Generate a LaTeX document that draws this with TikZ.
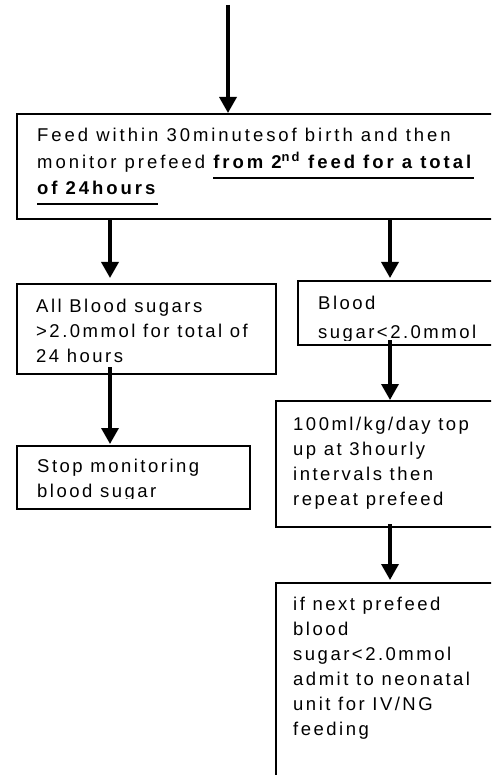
\documentclass[tikz,border=0pt]{standalone}
\usepackage{fontspec}
\setmainfont{Liberation Sans}[LetterSpace=13.5]
\usetikzlibrary{arrows.meta, positioning}

\newcommand\undl[1]{\setbox0\hbox{#1}\rlap{\smash{\rule[-10.5pt]{\wd0}{2pt}}}\box0}

\begin{document}
\begin{tikzpicture}[x=1pt, y=-1pt,
    box/.style={draw, line width=2pt, anchor=north west, inner sep=0pt},
    txt/.style={inner sep=0pt, align=left, font=\fontsize{18.5}{25}\selectfont},
    arr/.style={-{Triangle[width=17pt, length=16pt]}, line width=3.4pt}]
    \useasboundingbox (0,0) rectangle (491,775);
    \clip (0,0) rectangle (491,775);

    % boxes
    \node[box, minimum width=514pt, minimum height=105pt] (feed)  at (16,113) {};
    \node[box, minimum width=259pt, minimum height=90pt]  (allok) at (16,283) {};
    \node[box, minimum width=233pt, minimum height=64pt]  (high)  at (297,280) {};
    \node[box, minimum width=233pt, minimum height=63pt]  (stop)  at (16,445) {};
    \node[box, minimum width=255pt, minimum height=126pt] (topup) at (275,400) {};
    \node[box, minimum width=255pt, minimum height=240pt] (admit) at (275,582) {};

    % texts
    \node[txt, font=\fontsize{18.5}{26.5}\selectfont\addfontfeatures{LetterSpace=16},
          below right=15pt and 21pt of feed.north west] (feedtxt)
      {Feed within 30minutesof birth and then\\
       monitor prefeed \undl{\textbf{from 2\textsuperscript{nd} feed for a total}}\\
       \undl{\textbf{of 24hours}}};
    \node[txt, below right=16pt and 20pt of allok.north west] (alloktxt)
      {All Blood sugars\\>2.0mmol for total of\\24 hours};
    \begin{scope}
      \clip (high.north west) rectangle ([yshift=6pt]high.south east);
      \node[txt, font=\fontsize{18.5}{29}\selectfont,
            below right=15.5pt and 21pt of high.north west] (hightxt) {Blood\\sugar<2.0mmol};
    \end{scope}
    \begin{scope}
      \clip (stop.north west) rectangle ([yshift=12pt]stop.south east);
      \node[txt, below right=14pt and 21pt of stop.north west] (stoptxt) {Stop monitoring\\blood sugar};
    \end{scope}
    \node[txt, below right=16.5pt and 18pt of topup.north west] (topuptxt)
      {100ml/kg/day top\\up at 3hourly\\intervals then\\repeat prefeed};
    \node[txt, below right=15pt and 18pt of admit.north west] (admittxt)
      {if next prefeed\\blood\\sugar<2.0mmol\\admit to neonatal\\unit for IV/NG\\feeding};

    % arrows
    \coordinate (start) at (228,5);
    \coordinate (lx) at (110,0);
    \coordinate (rx) at (390,0);
    \draw[arr] (start) -- (start |- feed.north);
    \draw[arr, shorten >=5pt] (feed.south -| lx) -- (allok.north -| lx);
    \draw[arr, shorten >=2pt] (feed.south -| rx) -- (high.north -| rx);
    \draw[arr, shorten <=-8pt, shorten >=1pt] (allok.south -| lx) -- (stop.north -| lx);
    \draw[arr, shorten <=-6pt] (high.south -| rx) -- (topup.north -| rx);
    \draw[arr, shorten <=-4pt, shorten >=2pt] (topup.south -| rx) -- (admit.north -| rx);
\end{tikzpicture}
\end{document}
